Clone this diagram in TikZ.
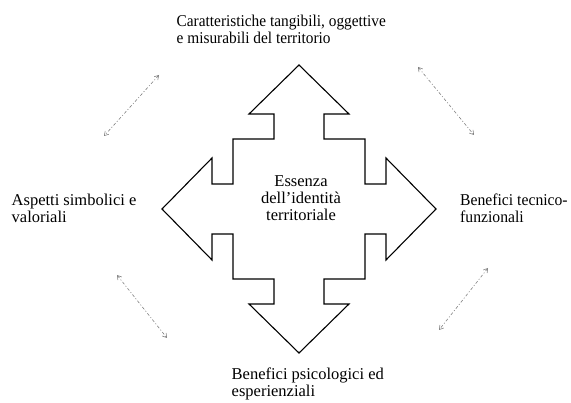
\documentclass[tikz,border=0pt]{standalone}
\usepackage{fontspec}
\setmainfont{Liberation Serif}
\usetikzlibrary{positioning, arrows.meta}

\tikzset{
  label/.style={font=\fontsize{16.5}{17}\selectfont, inner sep=0pt, align=left, anchor=north west},
  narrow/.style={font=\fontsize{16.5}{17}\selectfont\addfontfeature{FakeStretch=#1}},
  link/.style={gray, line width=0.6pt, dash pattern=on 3pt off 2pt on 1pt off 2pt,
    {Straight Barb[length=4pt,width=5pt]}-{Straight Barb[length=4pt,width=5pt]}}
}

\begin{document}
\begin{tikzpicture}[x=1pt,y=-1pt]
\useasboundingbox (0,0) rectangle (571,403);

% four-way arrow round the core
\begin{scope}[shift={(299,209)}]
\draw[line width=1.1pt, line join=miter]
  (0,-144) -- (50,-95) -- (25,-95) -- (25,-70) -- (66,-70) -- (66,-25)
  -- (87,-25) -- (87,-51) -- (137,0) -- (87,51) -- (87,25) -- (66,25)
  -- (66,70) -- (25,70) -- (25,95) -- (50,95) -- (0,144) -- (-50,95)
  -- (-25,95) -- (-25,70) -- (-66,70) -- (-66,25) -- (-87,25) -- (-87,51)
  -- (-137,0) -- (-87,-51) -- (-87,-25) -- (-66,-25) -- (-66,-70)
  -- (-25,-70) -- (-25,-95) -- (-50,-95) -- cycle;
\end{scope}

% core text
\node[label, align=center, anchor=north] (core) at (301,175) {Essenza\\dell'identità\\territoriale};

% outer labels
\node[label, narrow=0.93] (top) at (176.5,14.7) {Caratteristiche tangibili, oggettive\\e misurabili del territorio};
\node[label] (left) at (11.5,193.7) {Aspetti simbolici e\\valoriali};
\node[label, narrow=0.95] (right) at (460,193.7) {Benefici tecnico-\\funzionali};
\node[label] (bottom) at (231.5,367.7) {Benefici psicologici ed\\esperienziali};

% dashed links between the labels
\coordinate (tla) at (159,75);  \coordinate (tlb) at (104,136);
\coordinate (tra) at (418,67);  \coordinate (trb) at (474,135);
\coordinate (bla) at (117,275); \coordinate (blb) at (167,338);
\coordinate (bra) at (488,268); \coordinate (brb) at (439,330);
\foreach \a/\b in {tla/tlb, tra/trb, bla/blb, bra/brb}
\draw[link] (\a) -- (\b);
\end{tikzpicture}
\end{document}
